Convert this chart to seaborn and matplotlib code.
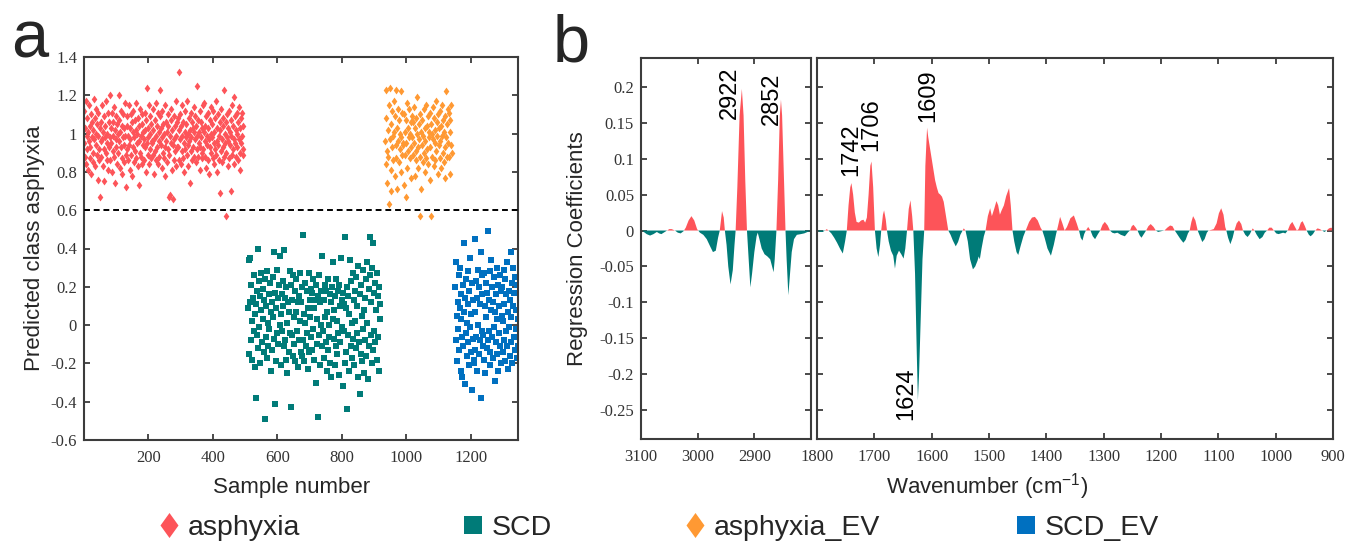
import numpy as np
import pandas as pd
import matplotlib
matplotlib.use("Agg")
import matplotlib.pyplot as plt
import seaborn as sns
from matplotlib.lines import Line2D
from matplotlib.path import Path

# ---------------- data : panel a (predicted class, in hundredths) ----------------
asph_samples = (1, 495)
asph_pred = [
    95,112,88,103,84,117,99,92,108,81,101,96,115,87,104,93,79,110,98,106,
    90,102,85,118,97,108,83,100,94,113,89,105,76,99,111,92,86,103,67,96,
    88,106,97,115,83,101,92,109,75,98,104,90,117,86,100,95,111,81,106,93,
    98,120,86,103,95,111,80,99,106,91,114,88,102,74,97,109,93,84,105,100,
    90,120,96,107,82,101,93,112,87,104,79,98,110,94,85,103,99,116,89,72,
    104,92,109,86,99,115,94,81,103,97,110,89,106,78,101,93,112,85,98,107,
    91,102,87,116,95,100,83,108,96,73,104,90,113,88,99,105,84,110,94,101,
    97,86,111,93,102,80,107,95,124,89,103,98,115,84,100,92,109,87,105,96,
    95,113,89,102,97,79,107,91,116,86,99,104,93,111,84,101,96,88,109,123,
    94,103,82,98,112,90,105,87,100,115,93,78,106,96,101,85,110,92,104,67,
    89,99,68,107,95,113,81,102,94,66,109,97,86,104,91,117,99,83,106,93,
    108,93,86,102,132,97,110,84,104,91,99,115,87,106,95,80,101,112,92,98,
    105,89,117,94,100,83,108,96,102,74,111,91,98,106,86,103,93,114,88,101,
    97,109,85,104,92,99,125,88,107,95,101,81,112,93,98,106,90,103,87,115,
    92,101,116,88,104,96,82,109,94,99,111,86,103,97,79,107,93,100,114,90,
    98,105,87,112,95,101,84,108,92,117,89,103,96,80,110,94,99,86,106,69,
    102,91,113,97,85,104,93,108,123,88,100,95,57,106,90,110,98,83,103,96,
    112,87,101,94,107,70,99,115,89,104,92,119,97,84,109,95,102,88,111,93,
    100,86,106,97,114,90,103,81,108,95,99,111,92,104,89,
]
scd_samples = (510, 919)
scd_pred = [
    9,34,-15,12,35,-8,21,2,-18,14,-3,26,6,-22,11,-38,18,-5,40,-12,
    23,-1,15,-20,8,27,-9,3,19,-14,13,-49,24,-6,10,-17,28,1,-11,16,
    -2,22,7,-24,12,-13,25,4,38,-7,17,-41,9,-19,29,-4,14,-10,21,0,
    36,6,-21,16,-3,23,10,-11,39,-8,14,-18,20,1,-25,12,7,-14,28,-4,
    -43,21,-5,13,-16,26,4,-10,18,-19,7,24,-3,12,-22,15,-8,27,2,-14,
    12,-16,20,47,-8,6,-19,22,1,-11,18,-4,9,-23,27,-14,13,4,-6,19,
    17,-13,24,-2,9,-18,13,-30,21,3,-10,15,-48,26,-5,12,-21,18,0,-11,
    36,-3,13,-17,21,4,-9,18,-24,7,-13,24,0,-6,16,-20,12,-27,20,3,
    33,-7,8,-21,15,-11,24,2,-15,18,-4,21,-26,10,-9,35,-1,13,-32,17,
    -3,11,-20,46,9,-14,-44,20,-5,15,-24,6,34,-11,23,-17,1,27,-7,13,
    -21,18,2,-12,25,-4,10,-27,31,-9,-36,16,-15,21,5,-19,29,-2,8,-25,
    14,-8,24,-16,33,1,-28,19,-11,26,46,-5,12,-20,30,43,-13,17,-3,22,
    -9,8,27,-18,15,-6,20,-24,11,3,
]
asph_ev_samples = (934, 1141)
asph_ev_pred = [
    96,84,108,123,91,74,102,88,63,115,124,97,81,105,70,112,93,99,86,117,
    101,78,109,94,87,123,103,71,96,113,85,107,92,100,80,122,98,111,89,95,
    94,110,73,101,89,67,107,95,116,82,103,91,98,113,87,100,77,106,93,109,
    98,106,89,114,95,78,103,91,108,86,100,119,93,82,105,97,110,88,57,101,
    71,94,107,85,99,113,90,103,80,96,115,87,104,92,109,84,98,101,76,111,
    93,105,57,100,88,114,97,83,108,95,102,86,117,91,99,106,79,110,94,103,
    87,112,96,82,104,99,115,90,107,85,101,93,109,77,98,122,88,105,95,113,
    111,88,101,79,107,94,115,90,
]
scd_ev_samples = (1152, 1346)
scd_ev_pred = [
    20,-8,33,5,-19,12,-2,26,-13,9,30,-24,3,16,-6,-27,21,-11,7,43,
    -31,14,-4,24,-16,1,28,-9,11,-21,18,-1,35,6,-14,-34,22,-7,13,-18,
    -20,45,7,-13,23,-6,14,-24,29,0,-15,20,-8,11,38,-38,16,-3,26,-11,
    -5,27,-18,10,-25,22,4,-12,17,-8,49,-3,13,-21,28,-14,8,34,-6,20,
    -17,12,-1,25,-29,7,16,-9,30,-15,3,21,-24,10,-4,26,-11,18,-20,5,
    20,2,-14,29,-8,11,-19,24,-3,16,-11,33,7,-23,18,-1,13,-16,38,4,
    -9,22,-20,10,30,-6,17,-13,25,-2,8,-17,21,3,-11,
]
threshold = 0.6
group_names = ["asphyxia", "SCD", "asphyxia_EV", "SCD_EV"]

# ---------------- data : panel b (regression coefficients) ----------------
wn_ch = [3100, 3095, 3090, 3084, 3078, 3072, 3068, 3064, 3058, 3054,
         3050, 3046, 3040, 3035, 3030, 3025, 3021, 3016, 3011, 3006,
         3001, 2996, 2990, 2984, 2978, 2973, 2968, 2964, 2961, 2957,
         2954, 2952, 2949, 2946, 2942, 2938, 2935, 2933, 2930, 2926,
         2922, 2919, 2916, 2913, 2910, 2907, 2904, 2900, 2896, 2894,
         2891, 2887, 2882, 2877, 2872, 2868, 2866, 2864, 2861, 2858,
         2855, 2853, 2851, 2848, 2845, 2843, 2840, 2837, 2834, 2830,
         2825, 2818, 2812, 2806, 2800]
coef_ch = [0.002, -0.002, -0.005, -0.007, -0.005, -0.002, -0.004, -0.005, -0.002, 0.0,
           0.002, 0.002, 0.0, -0.003, -0.004, -0.001, 0.004, 0.014, 0.020, 0.014,
           0.002, -0.003, -0.006, -0.012, -0.022, -0.030, -0.028, -0.010, 0.0, 0.027,
           0.018, 0.0, -0.02, -0.05, -0.075, -0.055, -0.02, 0.0, 0.06, 0.16,
           0.197, 0.16, 0.07, 0.0, -0.04, -0.079, -0.06, -0.03, -0.008, -0.003,
           -0.012, -0.025, -0.033, -0.036, -0.040, -0.052, -0.058, -0.04, 0.0, 0.07,
           0.16, 0.182, 0.16, 0.08, 0.0, -0.04, -0.09, -0.06, -0.03, -0.012,
           -0.006, -0.005, -0.004, -0.002, 0.0]
wn_fp = [1800, 1795, 1790, 1786, 1783, 1780, 1775, 1770, 1765, 1760,
         1755, 1751, 1748, 1745, 1742, 1740, 1737, 1734, 1731, 1727,
         1723, 1719, 1716, 1713, 1710, 1707, 1705, 1702, 1699, 1696,
         1693, 1690, 1688, 1685, 1683, 1680, 1678, 1675, 1671, 1667,
         1664, 1661, 1657, 1653, 1649, 1646, 1643, 1640, 1637, 1634,
         1632, 1629, 1626, 1624, 1622, 1619, 1616, 1613, 1611, 1608,
         1606, 1603, 1600, 1597, 1594, 1591, 1588, 1585, 1582, 1579,
         1576, 1573, 1571, 1567, 1563, 1558, 1554, 1550, 1546, 1544,
         1541, 1537, 1533, 1528, 1524, 1520, 1518, 1516, 1513, 1509,
         1506, 1502, 1498, 1495, 1491, 1487, 1484, 1481, 1478, 1474,
         1470, 1465, 1462, 1459, 1456, 1452, 1449, 1445, 1440, 1436,
         1430, 1425, 1420, 1415, 1410, 1407, 1403, 1398, 1392, 1387,
         1383, 1380, 1376, 1372, 1368, 1364, 1358, 1352, 1347, 1343,
         1340, 1337, 1334, 1331, 1327, 1323, 1319, 1315, 1310, 1306,
         1302, 1298, 1293, 1289, 1285, 1281, 1276, 1270, 1263, 1257,
         1254, 1251, 1248, 1244, 1241, 1237, 1234, 1230, 1226, 1222,
         1218, 1213, 1209, 1205, 1200, 1194, 1189, 1184, 1180, 1176,
         1171, 1166, 1161, 1157, 1153, 1150, 1147, 1144, 1140, 1136,
         1132, 1128, 1124, 1120, 1117, 1112, 1108, 1103, 1099, 1095,
         1091, 1088, 1086, 1083, 1079, 1075, 1072, 1068, 1064, 1060,
         1057, 1053, 1049, 1045, 1042, 1040, 1037, 1033, 1028, 1023,
         1019, 1015, 1011, 1007, 1003, 999, 995, 991, 987, 983,
         979, 975, 971, 967, 963, 960, 956, 953, 949, 946,
         942, 939, 935, 931, 927, 923, 919, 915, 911, 907,
         903, 900]
coef_fp = [0.0, -0.002, -0.002, 0.0, 0.002, 0.0, -0.004, -0.01, -0.017, -0.025,
           -0.032, -0.015, 0.0, 0.035, 0.06, 0.066, 0.05, 0.025, 0.012, 0.011,
           0.014, 0.015, 0.011, 0.018, 0.05, 0.09, 0.096, 0.06, 0.0, -0.025,
           -0.037, -0.02, 0.0, 0.022, 0.028, 0.015, 0.0, -0.015, -0.028, -0.035,
           -0.053, -0.035, -0.028, -0.033, -0.039, -0.025, 0.0, 0.03, 0.042, 0.02,
           0.0, -0.06, -0.17, -0.236, -0.2, -0.12, -0.04, 0.0, 0.09, 0.143,
           0.13, 0.115, 0.10, 0.085, 0.07, 0.06, 0.052, 0.05, 0.047, 0.04,
           0.025, 0.01, 0.0, -0.006, -0.014, -0.022, -0.016, -0.006, 0.0, 0.003,
           0.0, -0.015, -0.04, -0.054, -0.05, -0.042, -0.036, -0.04, -0.025, -0.008,
           0.0, 0.02, 0.031, 0.02, 0.03, 0.041, 0.035, 0.022, 0.028, 0.035,
           0.048, 0.059, 0.035, 0.0, -0.015, -0.03, -0.034, -0.022, -0.008, 0.0,
           0.012, 0.018, 0.019, 0.014, 0.004, 0.0, -0.01, -0.025, -0.035, -0.02,
           -0.005, 0.005, 0.019, 0.01, 0.0, 0.005, 0.017, 0.021, 0.01, 0.0,
           -0.01, -0.014, -0.005, 0.0, 0.005, 0.0, -0.008, -0.012, -0.005, 0.0,
           0.008, 0.012, 0.007, 0.0, -0.003, -0.004, -0.003, -0.006, -0.008, -0.002,
           0.0, 0.006, 0.008, 0.004, 0.0, -0.007, -0.01, -0.005, 0.0, 0.006,
           0.009, 0.005, 0.0, -0.002, -0.001, 0.0, 0.004, 0.007, 0.006, 0.0,
           -0.006, -0.012, -0.017, -0.013, -0.004, 0.0, 0.012, 0.02, 0.014, 0.0,
           -0.008, -0.016, -0.012, -0.003, 0.0, 0.001, 0.002, 0.01, 0.024, 0.031,
           0.022, 0.005, 0.0, -0.01, -0.019, -0.01, 0.0, 0.01, 0.014, 0.009,
           0.0, -0.006, -0.009, -0.005, 0.0, 0.003, 0.0, -0.006, -0.012, -0.009,
           -0.003, 0.0, 0.004, 0.004, 0.0, -0.004, -0.005, -0.004, -0.003, -0.004,
           0.0, 0.008, 0.012, 0.006, 0.0, 0.002, 0.011, 0.013, 0.006, 0.0,
           -0.006, -0.008, -0.005, 0.0, 0.003, 0.002, 0.0, -0.002, 0.0, 0.003,
           0.004, 0.002]
peak_labels = ["2922", "2852", "1742", "1706", "1609", "1624"]
peak_label_wn = [2943, 2869, 1739.5, 1706, 1606, 1643.5]
peak_label_y = [0.155, 0.147, 0.076, 0.111, 0.151, -0.264]

# tick labels
a_xticks = [200, 400, 600, 800, 1000, 1200]
a_yticks = [1.4, 1.2, 1.0, 0.8, 0.6, 0.4, 0.2, 0.0, -0.2, -0.4, -0.6]
a_yticklabels = ["1.4", "1.2", "1", "0.8", "0.6", "0.4", "0.2", "0", "-0.2", "-0.4", "-0.6"]
b_yticks = [0.2, 0.15, 0.1, 0.05, 0.0, -0.05, -0.1, -0.15, -0.2, -0.25]
b_yticklabels = ["0.2", "0.15", "0.1", "0.05", "0", "-0.05", "-0.1", "-0.15", "-0.2", "-0.25"]
bL_xticks = [3100, 3000, 2900, 2800]
bL_xticklabels = ["3100", "3000", "2900", ""]
bR_xticks = [1800, 1700, 1600, 1500, 1400, 1300, 1200, 1100, 1000, 900]
bR_xticklabels = [str(t) for t in bR_xticks]

# ---------------- style ----------------
sns.set_theme(style="ticks")
plt.rcParams["font.family"] = ["Liberation Sans", "DejaVu Sans"]
plt.rcParams["mathtext.default"] = "regular"

C_ASPH = "#FD5459"
C_SCD = "#007B78"
C_EV = "#FF9933"
C_SCDEV = "#0070C0"
SPINE = "#3C3C3C"
TICKFONT = "Liberation Serif"

DIAMOND = Path([(0, 1), (0.72, 0), (0, -1), (-0.72, 0), (0, 1)],
               [Path.MOVETO, Path.LINETO, Path.LINETO, Path.LINETO, Path.CLOSEPOLY])

W, H = 1346, 542
fig = plt.figure(figsize=(W / 100, H / 100), dpi=100)


def box(l, t, r, b):
    return [l / W, 1 - b / H, (r - l) / W, (b - t) / H]


axa = fig.add_axes(box(84, 57, 518, 440))
axL = fig.add_axes(box(641, 58, 811, 439))
axR = fig.add_axes(box(817, 58, 1333, 439), sharey=axL)


def style(ax):
    for s in ax.spines.values():
        s.set_visible(True)
        s.set_color(SPINE)
        s.set_linewidth(1.5)
    ax.tick_params(direction="in", length=4.5, width=1.3, color=SPINE,
                   top=True, right=True, labelsize=12, labelcolor="#333333")
    ax.tick_params(axis="y", pad=5)
    ax.tick_params(axis="x", pad=7)
    ax.grid(False)


# ---------------- panel a ----------------
def group_frame(name, samples, vals):
    n = len(vals)
    return pd.DataFrame({"sample": np.linspace(samples[0], samples[1], n),
                         "pred": np.array(vals) / 100, "group": name})


df = pd.concat([
    group_frame(group_names[0], asph_samples, asph_pred),
    group_frame(group_names[1], scd_samples, scd_pred),
    group_frame(group_names[2], asph_ev_samples, asph_ev_pred),
    group_frame(group_names[3], scd_ev_samples, scd_ev_pred),
], ignore_index=True)

marker_of = {"asphyxia": DIAMOND, "SCD": "s", "asphyxia_EV": DIAMOND, "SCD_EV": "s"}
size_of = {"asphyxia": 32, "SCD": 17, "asphyxia_EV": 32, "SCD_EV": 17}
color_of = {"asphyxia": C_ASPH, "SCD": C_SCD, "asphyxia_EV": C_EV, "SCD_EV": C_SCDEV}

for g in group_names:
    sub = df[df["group"] == g]
    sns.scatterplot(data=sub, x="sample", y="pred", marker=marker_of[g],
                    color=color_of[g], s=size_of[g], linewidth=0, ax=axa,
                    legend=False, zorder=2)

axa.axhline(threshold, color="black", linestyle=(0, (3, 2)), linewidth=1.4, zorder=3)
axa.set_xlim(1, 1346)
axa.set_ylim(-0.6, 1.4)
style(axa)
axa.set_xticks(a_xticks, labels=[str(t) for t in a_xticks], fontfamily=TICKFONT)
axa.set_yticks(a_yticks, labels=a_yticklabels, fontfamily=TICKFONT)
axa.set_xlabel("Sample number", fontsize=16, va="center")
axa.xaxis.set_label_coords((292 - 84) / 434, -(487 - 440) / 383)
axa.set_ylabel("Predicted class asphyxia", fontsize=16, va="center")
axa.yaxis.set_label_coords((35 - 84) / 434, 0.5)

# ---------------- panel b ----------------
for ax, wn, cf in [(axL, wn_ch, coef_ch), (axR, wn_fp, coef_fp)]:
    wn_a = np.array(wn, dtype=float)
    cf_a = np.array(cf, dtype=float)
    ax.fill_between(wn_a, cf_a, 0, where=cf_a >= 0, interpolate=True,
                    color=C_ASPH, linewidth=0)
    ax.fill_between(wn_a, cf_a, 0, where=cf_a <= 0, interpolate=True,
                    color=C_SCD, linewidth=0)
    style(ax)

axL.set_xlim(3100, 2800)
axR.set_xlim(1800, 900)
axL.set_ylim(-0.29, 0.24)
axL.set_xticks(bL_xticks, labels=bL_xticklabels, fontfamily=TICKFONT)
axR.set_xticks(bR_xticks, labels=bR_xticklabels, fontfamily=TICKFONT)
axL.set_yticks(b_yticks, labels=b_yticklabels, fontfamily=TICKFONT)
axR.tick_params(labelleft=False)
axL.set_ylabel("Regression Coefficients", fontsize=16, va="center")
axL.yaxis.set_label_coords((577 - 641) / 170, 0.5)
fig.text(987 / W, 1 - 487 / H, "Wavenumber (cm$^{-1}$)", fontsize=16,
         ha="center", va="center")

for lab, xw, yv in zip(peak_labels, peak_label_wn, peak_label_y):
    ax = axL if xw > 2000 else axR
    ax.text(xw, yv, lab, rotation=90, ha="center", va="bottom", fontsize=17,
            color="black")

# ---------------- panel letters ----------------
fig.text(11 / W, 1 - 57 / H, "a", fontsize=48, ha="left", va="baseline")
fig.text(553 / W, 1 - 62 / H, "b", fontsize=48, ha="left", va="baseline")

# ---------------- legend ----------------
leg_x = [169, 473, 695, 1026]
leg_y = 1 - 528 / H
for g, xc in zip(group_names, leg_x):
    ms = 18 if g in ("asphyxia", "asphyxia_EV") else 13
    h = Line2D([], [], marker=marker_of[g], color=color_of[g], linestyle="",
               markersize=ms, markeredgewidth=0)
    fs = 20.5
    hl = 0.8
    left_px = xc - hl * fs * 100 / 72 / 2
    fig.legend(handles=[h], labels=[g], loc="center left",
               bbox_to_anchor=(left_px / W, leg_y), frameon=False, fontsize=fs,
               handlelength=hl, handletextpad=0.25, borderpad=0, borderaxespad=0)

fig.savefig("out.png", dpi=100)
